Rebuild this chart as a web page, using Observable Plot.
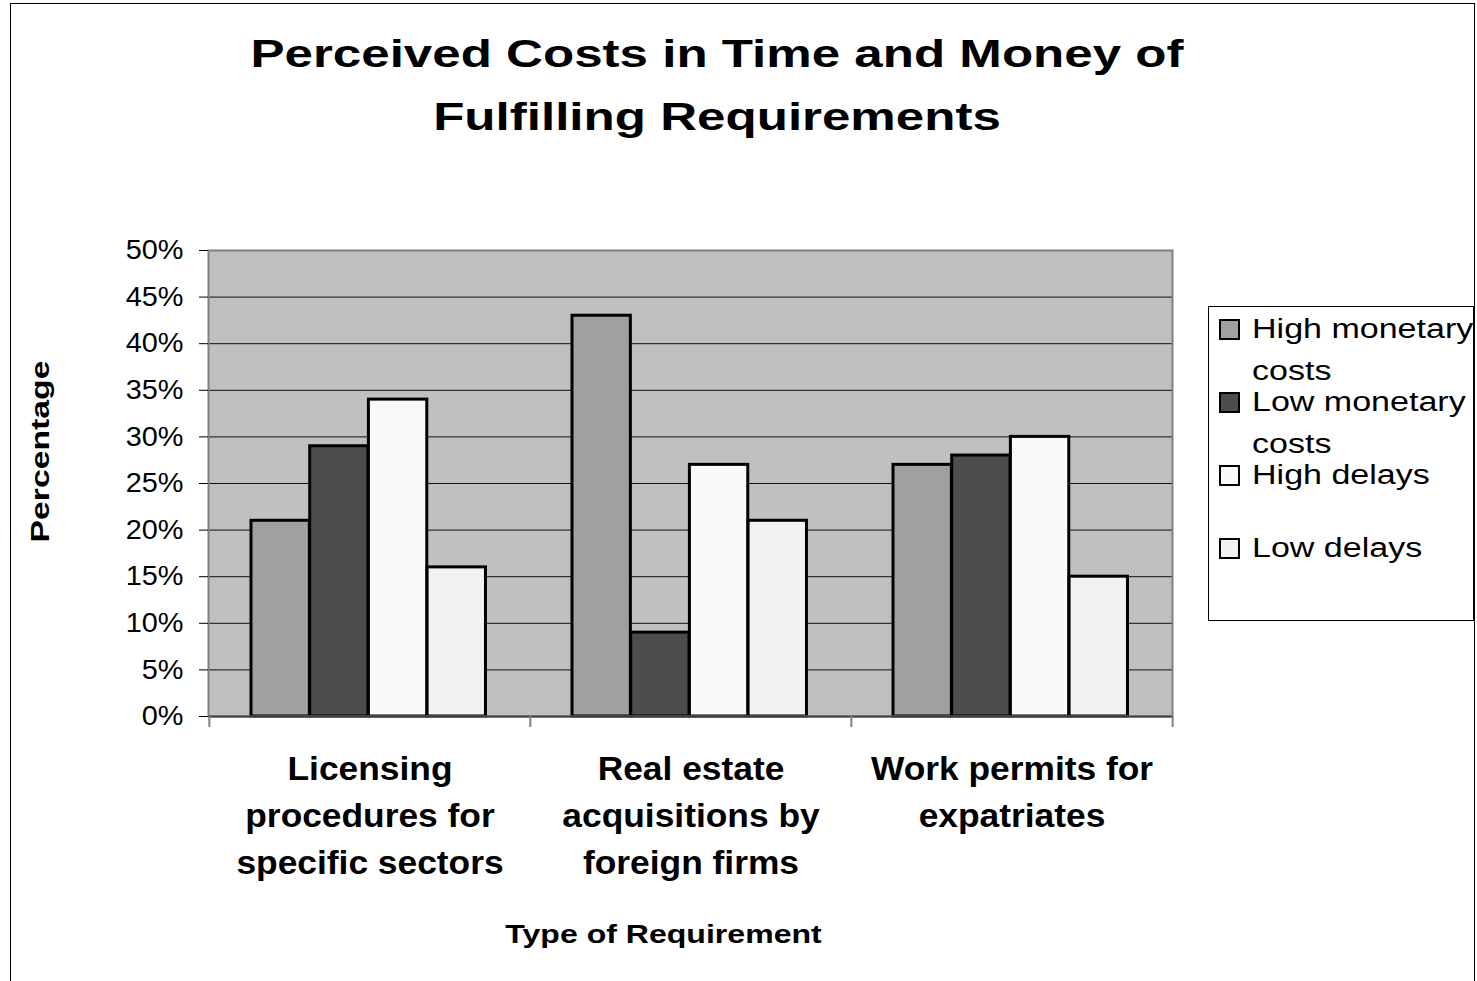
<!DOCTYPE html>
<html>
<head>
<meta charset="utf-8">
<script src="https://cdn.jsdelivr.net/npm/d3@7"></script>
<script src="https://cdn.jsdelivr.net/npm/@observablehq/plot@0.6"></script>
<style>
  html, body { margin: 0; padding: 0; background: #fff; }
  #wrap { position: relative; width: 1477px; height: 981px; overflow: hidden; font-family: "Liberation Sans", Arial, sans-serif; }
  #outer { position: absolute; left: 10px; top: 3px; width: 1463px; height: 1100px; border: 1px solid #000; }
  #chart { position: absolute; left: 0; top: 0; }
  .tline { position: absolute; left: 717px; font-size: 39px; line-height: 39px; font-weight: bold; white-space: nowrap; color: #000;
           transform: translateX(-50%) scaleX(1.31); transform-origin: 50% 0; }
  #legend { position: absolute; left: 1208px; top: 306px; width: 266px; height: 315px; border: 1px solid #000; box-sizing: border-box; background: #fff; }
  .sw { position: absolute; left: 1219px; width: 21px; height: 21px; box-sizing: border-box; border: 2px solid #000; }
  .lt { position: absolute; left: 1252px; width: 185px; font-size: 27px; line-height: 42px; color: #000;
        transform: scaleX(1.26); transform-origin: 0 0; }
</style>
</head>
<body>
<div id="wrap">
  <div id="outer"></div>
  <div id="chart"></div>
  <div id="titleBox"></div>
  <div id="legend"></div>
  <div id="legendItems"></div>
</div>
<script>
// ---- data ----
const titleLines = ["Perceived Costs in Time and Money of", "Fulfilling Requirements"];
const groups = ["Licensing\nprocedures for\nspecific sectors", "Real estate\nacquisitions by\nforeign firms", "Work permits for\nexpatriates"];
const seriesNames = ["High monetary costs", "Low monetary costs", "High delays", "Low delays"];
const seriesColors = ["#a0a0a0", "#4d4d4d", "#fafafa", "#f2f2f2"];
const highMonetary = [0.21, 0.43, 0.27];
const lowMonetary = [0.29, 0.09, 0.28];
const highDelays = [0.34, 0.27, 0.30];
const lowDelays = [0.16, 0.21, 0.15];
const yTicks = [0, 0.05, 0.10, 0.15, 0.20, 0.25, 0.30, 0.35, 0.40, 0.45, 0.50];
const yLabel = "Percentage";
const xLabel = "Type of Requirement";

const seriesValues = [highMonetary, lowMonetary, highDelays, lowDelays];
const rows = seriesNames.flatMap((s, si) => groups.map((g, gi) => ({group: g, series: s, si, value: seriesValues[si][gi]})));

// ---- layout ----
const W = 1477, H = 981;
const mL = 208, mR = 305, mT = 250, mB = 265;
const bw = (W - mL - mR) / groups.length;
const slotLeft = 42, slotW = 58.7;

const barMarks = seriesNames.map((s, si) =>
  Plot.barY(rows.filter(d => d.si === si), {
    x: "group", y: "value",
    fill: seriesColors[si], stroke: "#000", strokeWidth: 3,
    insetLeft: slotLeft + si * slotW,
    insetRight: bw - slotLeft - (si + 1) * slotW
  })
);

const plot = Plot.plot({
  width: W, height: H,
  marginLeft: mL, marginRight: mR, marginTop: mT, marginBottom: mB,
  style: {fontFamily: "'Liberation Sans', Arial, sans-serif", background: "transparent", overflow: "visible", color: "#000"},
  x: {domain: groups, padding: 0, axis: null},
  y: {domain: [0, 0.5], axis: null},
  marks: [
    Plot.frame({fill: "#c0c0c0", stroke: null}),
    Plot.ruleY(yTicks.slice(1, -1), {stroke: "#111", strokeWidth: 1}),
    ...barMarks,
    Plot.frame({stroke: "#808080", strokeWidth: 2, fill: null}),
    Plot.ruleY([0], {stroke: "#404040", strokeWidth: 2}),
    Plot.ruleX(groups, {x: d => d, y1: 0, y2: -0.0118, dx: -bw / 2, stroke: "#808080", strokeWidth: 2}),
    Plot.ruleX(groups.slice(-1), {x: d => d, y1: 0, y2: -0.0118, dx: bw / 2, stroke: "#808080", strokeWidth: 2}),
    Plot.axisY({ticks: yTicks, tickFormat: d3.format(".0%"), tickSize: 9, tickPadding: 16, fontSize: 27, label: null, stroke: "#000"}),
    Plot.axisX({tickSize: 0, tickPadding: 30, fontSize: 34, fontWeight: "bold", lineHeight: 1.38, label: null}),
    Plot.text([yLabel], {text: d => d, frameAnchor: "left", textAnchor: "middle", rotate: -90, dx: -168, dy: -32, fontSize: 25, fontWeight: "bold"}),
    Plot.text([xLabel], {text: d => d, frameAnchor: "bottom", textAnchor: "middle", lineAnchor: "bottom", dx: -27, dy: 226, fontSize: 26.5, fontWeight: "bold"})
  ]
});

function stretchEl(t, s) {
  const tr = t.getAttribute("transform");
  if (tr) t.setAttribute("transform", tr + ` scale(${s},1)`);
  else {
    const x = +t.getAttribute("x") || 0, y = +t.getAttribute("y") || 0;
    t.setAttribute("transform", `translate(${x},${y}) scale(${s},1) translate(${-x},${-y})`);
  }
}
const yTickTexts = new Set(yTicks.map(d3.format(".0%")));
plot.querySelectorAll("text").forEach(t => {
  const c = t.textContent;
  if (c === yLabel) stretchEl(t, 1.35);
  else if (c === xLabel) stretchEl(t, 1.21);
  else if (yTickTexts.has(c)) stretchEl(t, 1.07);
  else stretchEl(t, 1.04);
});
document.getElementById("chart").appendChild(plot);

// ---- title ----
const tb = document.getElementById("titleBox");
titleLines.forEach((t, i) => {
  const d = document.createElement("div");
  d.className = "tline";
  d.style.top = (34 + i * 63) + "px";
  d.textContent = t;
  tb.appendChild(d);
});

// ---- legend ----
const li = document.getElementById("legendItems");
seriesNames.forEach((s, i) => {
  const sw = document.createElement("div");
  sw.className = "sw";
  sw.style.top = (319 + 73 * i) + "px";
  sw.style.background = seriesColors[i];
  li.appendChild(sw);
  const t = document.createElement("div");
  t.className = "lt";
  t.style.top = (308 + 73 * i) + "px";
  t.textContent = s;
  li.appendChild(t);
});
</script>
</body>
</html>
